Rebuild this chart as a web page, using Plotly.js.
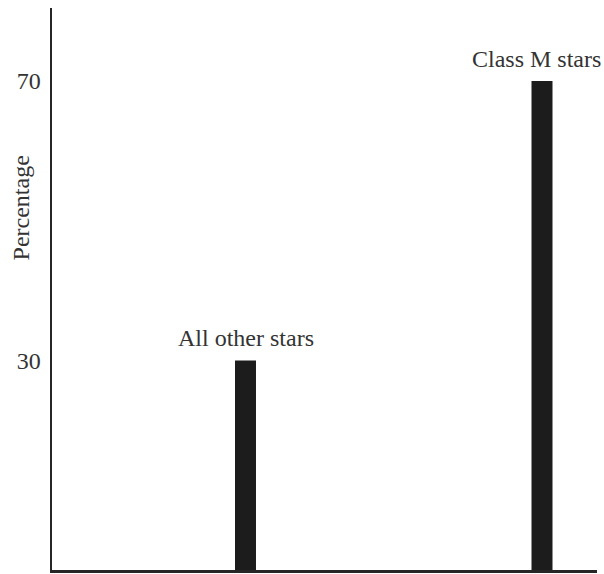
<!DOCTYPE html>
<html>
<head>
<meta charset="utf-8">
<script src="https://cdn.plot.ly/plotly-3.0.1.min.js"></script>
<style>html,body{margin:0;padding:0;background:#fff;}#chart{width:604px;height:574px;}</style>
</head>
<body>
<div id="chart"></div>
<script>
const categories = ["All other stars", "Class M stars"];
const percentages = [30, 70];
const yTickValues = [30, 70];
const yTickLabels = ["30", "70"];
const yAxisTitle = "Percentage";

const serif = "Liberation Serif, Times New Roman, serif";
const textColor = "#333333";
const labelShift = [0, -6];

const annotations = categories.map((c, i) => ({
  x: c, y: percentages[i], xref: "x", yref: "y",
  text: c, showarrow: false, yanchor: "bottom", xanchor: "center",
  xshift: labelShift[i], yshift: 7,
  font: {family: serif, size: 24, color: textColor}
}));
annotations.push({
  x: -0.057, y: 0.645, xref: "paper", yref: "paper",
  text: yAxisTitle, textangle: -90, showarrow: false,
  xanchor: "center", yanchor: "middle",
  font: {family: serif, size: 24, color: textColor}
});

Plotly.newPlot("chart", [{
  type: "bar",
  x: categories,
  y: percentages,
  width: 0.0708,
  marker: {color: "#1c1c1c", line: {width: 0}},
  hoverinfo: "skip"
}], {
  width: 604, height: 574,
  margin: {l: 52, r: 7, t: 8, b: 4, pad: 0},
  paper_bgcolor: "#ffffff", plot_bgcolor: "#ffffff",
  showlegend: false,
  xaxis: {
    type: "category",
    range: [-0.6526, 1.1855],
    showticklabels: false, ticks: "", showgrid: false, zeroline: false,
    showline: true, linecolor: "#262626", linewidth: 2.5,
    automargin: false, fixedrange: true
  },
  yaxis: {
    range: [0, 80.45],
    tickvals: yTickValues, ticktext: yTickLabels,
    ticks: "", showgrid: false, zeroline: false,
    showline: true, linecolor: "#262626", linewidth: 2.5,
    tickfont: {family: serif, size: 24, color: textColor},
    ticklabelstandoff: 4,
    automargin: false, fixedrange: true
  },
  annotations: annotations
}, {staticPlot: true, displayModeBar: false});
</script>
</body>
</html>
